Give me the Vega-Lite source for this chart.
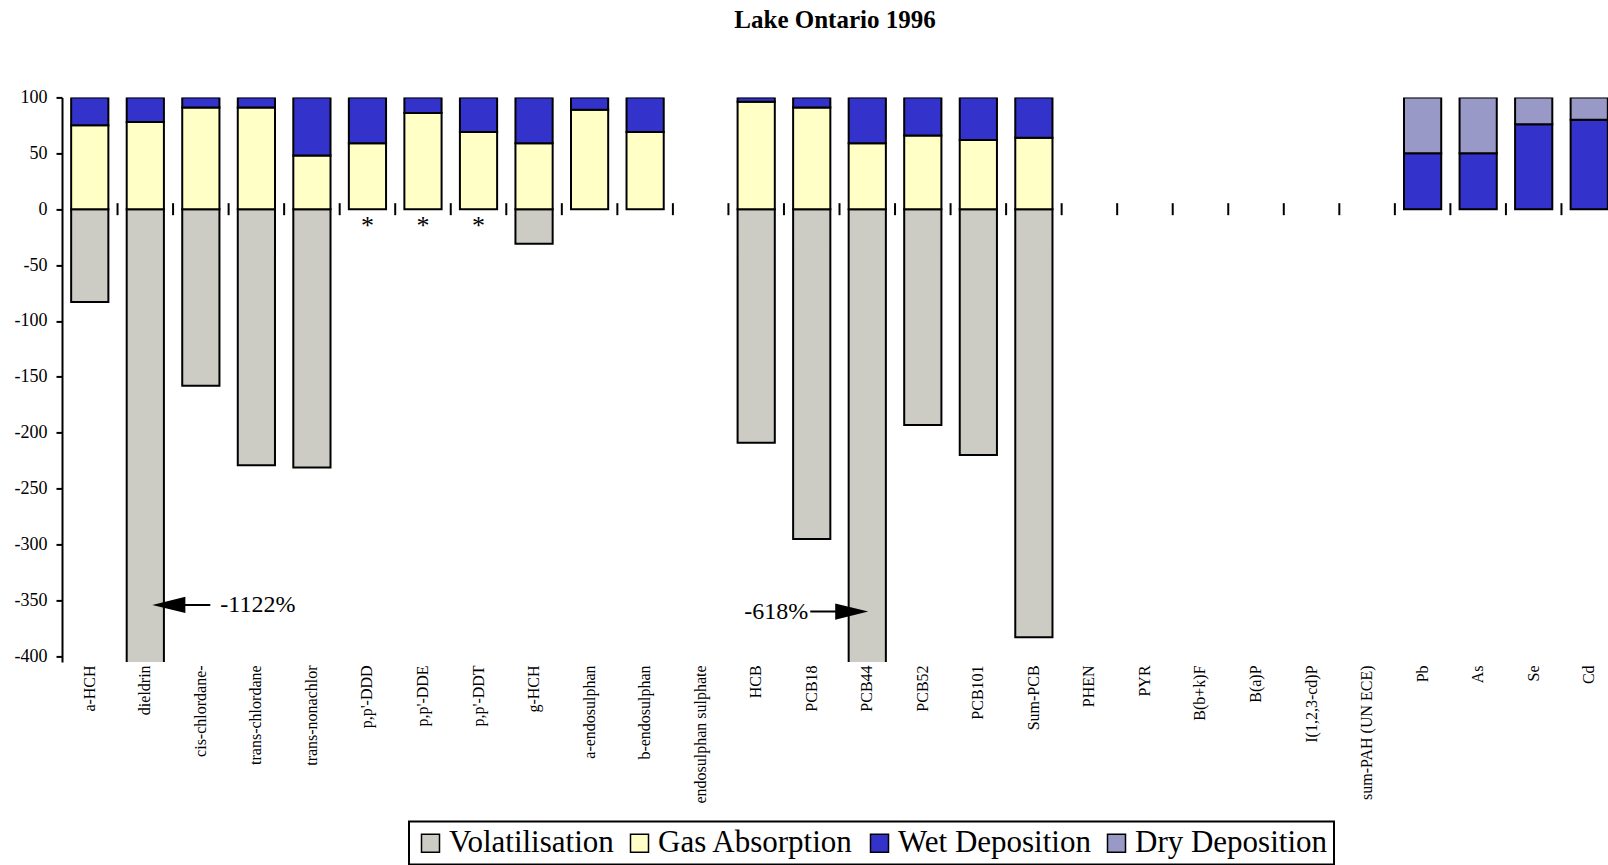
{
  "$schema": "https://vega.github.io/schema/vega-lite/v6.json",
  "width": 1546,
  "height": 564.5,
  "autosize": {"type": "none"},
  "padding": {"left": 62, "top": 97.4, "right": 0, "bottom": 203.1},
  "background": "white",
  "title": {"text": "Lake Ontario 1996", "font": "Liberation Serif", "fontSize": 25, "fontWeight": "bold", "anchor": "middle", "offset": 55, "color": "black"},
  "config": {"view": {"stroke": null}, "font": "Liberation Serif"},
  "datasets": {
    "compounds": [
      {"compound": "a-HCH"}, {"compound": "dieldrin"}, {"compound": "cis-chlordane-"}, {"compound": "trans-chlordane"},
      {"compound": "trans-nonachlor"}, {"compound": "p,p'-DDD"}, {"compound": "p,p'-DDE"}, {"compound": "p,p'-DDT"},
      {"compound": "g-HCH"}, {"compound": "a-endosulphan"}, {"compound": "b-endosulphan"}, {"compound": "endosulphan sulphate"},
      {"compound": "HCB"}, {"compound": "PCB18"}, {"compound": "PCB44"}, {"compound": "PCB52"}, {"compound": "PCB101"},
      {"compound": "Sum-PCB"}, {"compound": "PHEN"}, {"compound": "PYR"}, {"compound": "B(b+k)F"}, {"compound": "B(a)P"},
      {"compound": "I(1,2,3-cd)P"}, {"compound": "sum-PAH (UN ECE)"}, {"compound": "Pb"}, {"compound": "As"},
      {"compound": "Se"}, {"compound": "Cd"}
    ],
    "flux": [
      {"compound": "a-HCH", "type": "Volatilisation", "value": -83},
      {"compound": "a-HCH", "type": "Gas Absorption", "value": 75},
      {"compound": "a-HCH", "type": "Wet Deposition", "value": 25},
      {"compound": "dieldrin", "type": "Volatilisation", "value": -1122},
      {"compound": "dieldrin", "type": "Gas Absorption", "value": 78},
      {"compound": "dieldrin", "type": "Wet Deposition", "value": 22},
      {"compound": "cis-chlordane-", "type": "Volatilisation", "value": -158},
      {"compound": "cis-chlordane-", "type": "Gas Absorption", "value": 91},
      {"compound": "cis-chlordane-", "type": "Wet Deposition", "value": 9},
      {"compound": "trans-chlordane", "type": "Volatilisation", "value": -229},
      {"compound": "trans-chlordane", "type": "Gas Absorption", "value": 91},
      {"compound": "trans-chlordane", "type": "Wet Deposition", "value": 9},
      {"compound": "trans-nonachlor", "type": "Volatilisation", "value": -231},
      {"compound": "trans-nonachlor", "type": "Gas Absorption", "value": 48},
      {"compound": "trans-nonachlor", "type": "Wet Deposition", "value": 52},
      {"compound": "p,p'-DDD", "type": "Gas Absorption", "value": 59},
      {"compound": "p,p'-DDD", "type": "Wet Deposition", "value": 41},
      {"compound": "p,p'-DDE", "type": "Gas Absorption", "value": 86},
      {"compound": "p,p'-DDE", "type": "Wet Deposition", "value": 14},
      {"compound": "p,p'-DDT", "type": "Gas Absorption", "value": 69},
      {"compound": "p,p'-DDT", "type": "Wet Deposition", "value": 31},
      {"compound": "g-HCH", "type": "Volatilisation", "value": -31},
      {"compound": "g-HCH", "type": "Gas Absorption", "value": 59},
      {"compound": "g-HCH", "type": "Wet Deposition", "value": 41},
      {"compound": "a-endosulphan", "type": "Gas Absorption", "value": 89},
      {"compound": "a-endosulphan", "type": "Wet Deposition", "value": 11},
      {"compound": "b-endosulphan", "type": "Gas Absorption", "value": 69},
      {"compound": "b-endosulphan", "type": "Wet Deposition", "value": 31},
      {"compound": "HCB", "type": "Volatilisation", "value": -209},
      {"compound": "HCB", "type": "Gas Absorption", "value": 96},
      {"compound": "HCB", "type": "Wet Deposition", "value": 4},
      {"compound": "PCB18", "type": "Volatilisation", "value": -295},
      {"compound": "PCB18", "type": "Gas Absorption", "value": 91},
      {"compound": "PCB18", "type": "Wet Deposition", "value": 9},
      {"compound": "PCB44", "type": "Volatilisation", "value": -618},
      {"compound": "PCB44", "type": "Gas Absorption", "value": 59},
      {"compound": "PCB44", "type": "Wet Deposition", "value": 41},
      {"compound": "PCB52", "type": "Volatilisation", "value": -193},
      {"compound": "PCB52", "type": "Gas Absorption", "value": 66},
      {"compound": "PCB52", "type": "Wet Deposition", "value": 34},
      {"compound": "PCB101", "type": "Volatilisation", "value": -220},
      {"compound": "PCB101", "type": "Gas Absorption", "value": 62},
      {"compound": "PCB101", "type": "Wet Deposition", "value": 38},
      {"compound": "Sum-PCB", "type": "Volatilisation", "value": -383},
      {"compound": "Sum-PCB", "type": "Gas Absorption", "value": 64},
      {"compound": "Sum-PCB", "type": "Wet Deposition", "value": 36},
      {"compound": "Pb", "type": "Wet Deposition", "value": 50},
      {"compound": "Pb", "type": "Dry Deposition", "value": 50},
      {"compound": "As", "type": "Wet Deposition", "value": 50},
      {"compound": "As", "type": "Dry Deposition", "value": 50},
      {"compound": "Se", "type": "Wet Deposition", "value": 76},
      {"compound": "Se", "type": "Dry Deposition", "value": 24},
      {"compound": "Cd", "type": "Wet Deposition", "value": 80},
      {"compound": "Cd", "type": "Dry Deposition", "value": 20}
    ],
    "flagged": [
      {"compound": "p,p'-DDD"},
      {"compound": "p,p'-DDE"},
      {"compound": "p,p'-DDT"}
    ],
    "offscale": [
      {"compound": "dieldrin", "total": "-1122%"},
      {"compound": "PCB44", "total": "-618%"}
    ]
  },
  "layer": [
    {
      "mark": {"type": "rule", "color": "#808080", "strokeWidth": 2},
      "encoding": {"y": {"datum": 100, "type": "quantitative"}}
    },
    {
      "mark": {"type": "rule", "color": "#808080", "strokeWidth": 2},
      "encoding": {"y": {"datum": -400, "type": "quantitative"}}
    },
    {
      "data": {"name": "flux"},
      "encoding": {
        "x": {
          "field": "compound", "type": "nominal",
          "scale": {
            "domain": ["a-HCH", "dieldrin", "cis-chlordane-", "trans-chlordane", "trans-nonachlor", "p,p'-DDD", "p,p'-DDE", "p,p'-DDT", "g-HCH", "a-endosulphan", "b-endosulphan", "endosulphan sulphate", "HCB", "PCB18", "PCB44", "PCB52", "PCB101", "Sum-PCB", "PHEN", "PYR", "B(b+k)F", "B(a)P", "I(1,2,3-cd)P", "sum-PAH (UN ECE)", "Pb", "As", "Se", "Cd"],
            "range": [0, 1555],
            "paddingInner": 0.33,
            "paddingOuter": 0.165
          },
          "axis": {
            "orient": "bottom", "title": null, "ticks": false, "domain": false, "grid": false,
            "labelAngle": -90, "labelFont": "Liberation Serif", "labelFontSize": 16, "labelColor": "black",
            "labelPadding": 3, "labelOverlap": false, "labelLimit": 250
          }
        },
        "y": {
          "field": "value", "type": "quantitative", "stack": "zero",
          "scale": {"domain": [-405, 100], "nice": false, "zero": false},
          "axis": {
            "title": null, "grid": false, "values": [100, 50, 0, -50, -100, -150, -200, -250, -300, -350, -400],
            "labelExpr": "'' + datum.value",
            "domainColor": "black", "domainWidth": 2, "tickColor": "black", "tickWidth": 2, "tickSize": 6,
            "labelFont": "Liberation Serif", "labelFontSize": 18, "labelColor": "black", "labelPadding": 9
          }
        },
        "color": {
          "field": "type", "type": "nominal",
          "scale": {
            "domain": ["Volatilisation", "Gas Absorption", "Wet Deposition", "Dry Deposition"],
            "range": ["#CCCCC4", "#FFFFC6", "#3333CC", "#9999C8"]
          },
          "legend": {
            "title": null, "orient": "none", "legendX": 347, "legendY": 724, "direction": "horizontal",
            "symbolType": "square", "symbolSize": 324, "symbolStrokeColor": "black", "symbolStrokeWidth": 1.5,
            "labelFont": "Liberation Serif", "labelFontSize": 31, "labelColor": "black", "labelOffset": 3,
            "labelLimit": 400, "columnPadding": 10, "strokeColor": "black", "padding": 6,
            "encode": {"legend": {"update": {"strokeWidth": {"value": 2}}}}
          }
        }
      },
      "layer": [
        {
          "transform": [{"filter": {"not": {"field": "compound", "oneOf": ["Pb", "As", "Se", "Cd"]}}}],
          "mark": {"type": "bar", "stroke": "black", "strokeWidth": 2, "clip": true},
          "encoding": {"order": {"field": "type", "sort": "ascending"}}
        },
        {
          "transform": [{"filter": {"field": "compound", "oneOf": ["Pb", "As", "Se", "Cd"]}}],
          "mark": {"type": "bar", "stroke": "black", "strokeWidth": 2, "clip": true},
          "encoding": {"order": {"field": "type", "sort": "descending"}}
        }
      ]
    },
    {
      "mark": {"type": "rule", "color": "black", "strokeWidth": 2},
      "encoding": {"y": {"datum": 0, "type": "quantitative"}}
    },
    {
      "data": {"name": "compounds"},
      "mark": {"type": "tick", "orient": "vertical", "size": 12, "thickness": 2, "color": "black", "opacity": 1, "xOffset": 27.77},
      "encoding": {
        "x": {"field": "compound", "type": "nominal"},
        "y": {"datum": 0, "type": "quantitative"}
      }
    },
    {
      "data": {"name": "flagged"},
      "mark": {"type": "text", "text": "*", "fontSize": 26, "font": "Liberation Serif", "baseline": "middle", "color": "black"},
      "encoding": {
        "x": {"field": "compound", "type": "nominal"},
        "y": {"datum": -15, "type": "quantitative"}
      }
    },
    {
      "data": {"name": "offscale"},
      "transform": [{"filter": {"field": "compound", "equal": "dieldrin"}}],
      "layer": [
        {
          "mark": {"type": "point", "shape": "M-1,0L0.14,-0.28L0.14,-0.035L1,-0.035L1,0.035L0.14,0.035L0.14,0.28Z", "size": 3364, "filled": true, "color": "black", "opacity": 1, "strokeWidth": 0, "xOffset": 36},
          "encoding": {"x": {"field": "compound", "type": "nominal"}, "y": {"datum": -354, "type": "quantitative"}}
        },
        {
          "mark": {"type": "text", "fontSize": 24, "font": "Liberation Serif", "align": "left", "baseline": "middle", "color": "black", "xOffset": 75},
          "encoding": {"x": {"field": "compound", "type": "nominal"}, "y": {"datum": -354, "type": "quantitative"}, "text": {"field": "total"}}
        }
      ]
    },
    {
      "data": {"name": "offscale"},
      "transform": [{"filter": {"field": "compound", "equal": "PCB44"}}],
      "layer": [
        {
          "mark": {"type": "point", "shape": "M1,0L-0.14,-0.28L-0.14,-0.035L-1,-0.035L-1,0.035L-0.14,0.035L-0.14,0.28Z", "size": 3364, "filled": true, "color": "black", "opacity": 1, "strokeWidth": 0, "xOffset": -28},
          "encoding": {"x": {"field": "compound", "type": "nominal"}, "y": {"datum": -360, "type": "quantitative"}}
        },
        {
          "mark": {"type": "text", "fontSize": 24, "font": "Liberation Serif", "align": "right", "baseline": "middle", "color": "black", "xOffset": -59},
          "encoding": {"x": {"field": "compound", "type": "nominal"}, "y": {"datum": -360, "type": "quantitative"}, "text": {"field": "total"}}
        }
      ]
    }
  ]
}
